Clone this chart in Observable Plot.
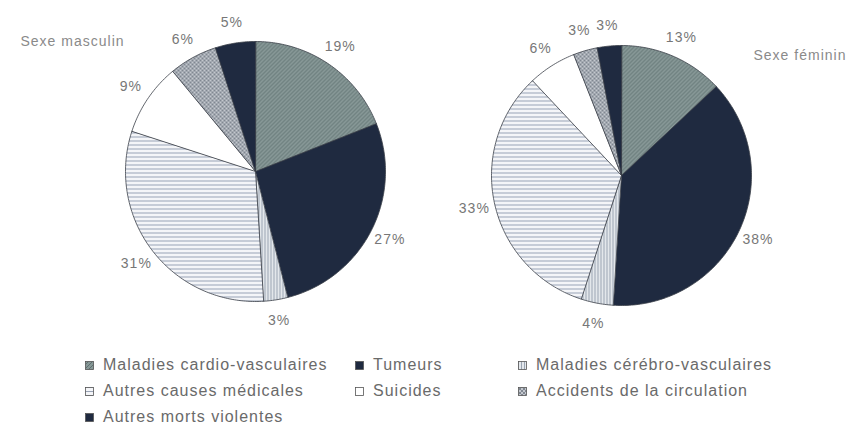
<!DOCTYPE html>
<html><head><meta charset="utf-8">
<script src="https://cdn.jsdelivr.net/npm/d3@7"></script>
<script src="https://cdn.jsdelivr.net/npm/@observablehq/plot@0.6"></script>
<style>
body{margin:0;background:#fff;font-family:"Liberation Sans",Arial,sans-serif;}
#wrap{position:relative;width:857px;height:425px;overflow:hidden;background:#fff}
#legend{position:absolute;left:85px;top:352px;display:grid;grid-template-columns:270px 163px auto;grid-auto-rows:26px;font-size:16px;letter-spacing:1px;color:#6a6a6a}
.item{display:flex;align-items:center;white-space:nowrap}
.item svg{margin-right:9px;flex:none}
</style></head><body><div id="wrap"></div>
<script>
// ---- data ----
const categories = ["Maladies cardio-vasculaires","Tumeurs","Maladies cérébro-vasculaires","Autres causes médicales","Suicides","Accidents de la circulation","Autres morts violentes"];
const masculin = [19, 27, 3, 31, 9, 6, 5];
const feminin = [13, 38, 4, 33, 6, 3, 3];
const pieTitles = ["Sexe masculin", "Sexe féminin"];

// ---- styles ----
const fills = ["url(#pat-cardio)", "#1f2a40", "url(#pat-cerebro)", "url(#pat-autres)", "#ffffff", "url(#pat-acc)", "#1f2a40"];
const W = 857, H = 340;
const pies = [
  {values: masculin, cx: 255, cy: 171, r: 130, title: pieTitles[0], tx: 20, ty: 41},
  {values: feminin, cx: 621, cy: 175, r: 130, title: pieTitles[1], tx: 753, ty: 55}
];

const pie = d3.pie().sort(null).startAngle(0).endAngle(2 * Math.PI);
const slicePts = [];   // polygon vertices
const labels = [];
pies.forEach((p, pi) => {
  const arcs = pie(p.values);
  arcs.forEach((a, i) => {
    const key = pi + "-" + i;
    slicePts.push({key, cat: i, x: p.cx, y: p.cy});
    const n = Math.max(2, Math.ceil((a.endAngle - a.startAngle) / (Math.PI / 180)));
    for (let k = 0; k <= n; k++) {
      const t = a.startAngle + (a.endAngle - a.startAngle) * k / n;
      slicePts.push({key, cat: i, x: p.cx + p.r * Math.sin(t), y: p.cy - p.r * Math.cos(t)});
    }
    const m = (a.startAngle + a.endAngle) / 2;
    labels.push({x: p.cx + p.r * 1.16 * Math.sin(m), y: p.cy - p.r * 1.16 * Math.cos(m), text: a.data + "%"});
  });
});

const sliceMarks = categories.map((c, i) =>
  Plot.line(slicePts.filter(d => d.cat === i), {
    x: "x", y: "y", z: "key", curve: "linear-closed",
    fill: fills[i], stroke: "#3a3f48", strokeWidth: 0.8, strokeLinejoin: "round"
  })
);

const chart = Plot.plot({
  width: W, height: H, margin: 0,
  x: {domain: [0, W], range: [0, W], axis: null},
  y: {domain: [0, H], range: [0, H], axis: null},
  style: {fontFamily: "'Liberation Sans', Arial, sans-serif", letterSpacing: "1px", background: "#fff"},
  marks: [
    ...sliceMarks,
    Plot.text(labels, {x: "x", y: "y", text: "text", fontSize: 14, fill: "#777"}),
    Plot.text(pies, {x: "tx", y: "ty", text: "title", fontSize: 14, fill: "#8a8a8a", textAnchor: "start"})
  ]
});

// pattern definitions
const defs = d3.select(chart).insert("defs", ":first-child");
function pat(id, size, bg, draw) {
  const p = defs.append("pattern").attr("id", id).attr("patternUnits", "userSpaceOnUse")
    .attr("width", size).attr("height", size);
  p.append("rect").attr("width", size).attr("height", size).attr("fill", bg);
  draw(p);
}
pat("pat-cardio", 4, "#879897", p => p.append("path")
  .attr("d", "M-1,1L1,-1M0,4L4,0M3,5L5,3").attr("stroke", "#5e6f6f").attr("stroke-width", 1));
pat("pat-cerebro", 3, "#e3e7eb", p => p.append("path")
  .attr("d", "M0.5,0V3").attr("stroke", "#9aa4b2").attr("stroke-width", 1));
pat("pat-autres", 4, "#f4f5f8", p => p.append("path")
  .attr("d", "M0,0.5H4").attr("stroke", "#98a2b5").attr("stroke-width", 1));
pat("pat-acc", 4, "#c4c8ce", p => p.append("path")
  .attr("d", "M-1,1L1,-1M0,4L4,0M3,5L5,3M-1,3L1,5M0,0L4,4M3,-1L5,1").attr("stroke", "#6f7681").attr("stroke-width", 0.8));

const wrap = document.getElementById("wrap");
wrap.appendChild(chart);

// legend
const legend = document.createElement("div");
legend.id = "legend";
categories.forEach((c, i) => {
  const item = document.createElement("div");
  item.className = "item";
  item.innerHTML = `<svg width="9" height="9"><rect x="0.5" y="0.5" width="8" height="8" fill="${fills[i]}" stroke="#555" stroke-width="0.8"/></svg><span></span>`;
  item.querySelector("span").textContent = c;
  legend.appendChild(item);
});
wrap.appendChild(legend);
</script>
</body></html>
